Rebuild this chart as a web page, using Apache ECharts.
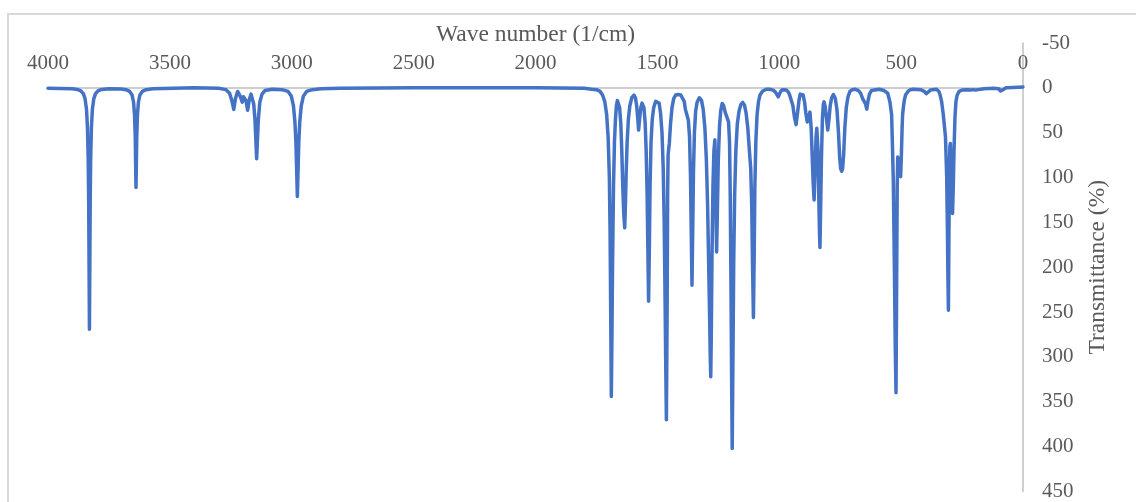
<!DOCTYPE html>
<html>
<head>
<meta charset="utf-8">
<title>IR spectrum</title>
<script src="https://cdn.jsdelivr.net/npm/echarts@6/dist/echarts.min.js"></script>
<style>
  html, body { margin: 0; padding: 0; background: #ffffff; }
  #chart { width: 1136px; height: 502px; }
</style>
</head>
<body>
<div id="chart"></div>
<script>
// Spectrum points as [wave number (1/cm), transmittance (%)], high to low wave number.
const highRegion = [
  [4000, 0.5], [3900, 1], [3880, 1.8], [3865, 3.5], [3855, 6.5], [3848, 12],
  [3842, 24], [3838, 45], [3835, 80], [3833, 130], [3831.5, 200], [3830, 269],
  [3828.5, 200], [3827, 130], [3825, 80], [3822, 45], [3818, 24], [3812, 12],
  [3805, 6.5], [3795, 3.5], [3780, 1.8], [3750, 1], [3700, 1.2], [3680, 2],
  [3665, 4], [3655, 8], [3649, 16], [3645, 30], [3642, 55], [3640.5, 85],
  [3639, 111], [3637.5, 85], [3636, 55], [3633, 30], [3629, 16], [3623, 8],
  [3613, 4], [3598, 2], [3570, 1], [3400, 0], [3300, 0.5], [3270, 2],
  [3255, 6], [3245, 15], [3238, 24], [3231, 12], [3222, 4], [3212, 9],
  [3203, 16], [3198, 10], [3194, 9], [3188, 14], [3181, 25], [3174, 13],
  [3167, 7], [3162, 9], [3156, 18], [3151, 35], [3147, 60], [3144, 79],
  [3141, 60], [3137, 35], [3131, 16], [3122, 7], [3110, 3], [3080, 1.5],
  [3040, 2], [3015, 4], [3002, 9], [2993, 20], [2987, 38], [2983, 60],
  [2980, 90], [2977, 121], [2974, 90], [2971, 60], [2967, 38], [2961, 20],
  [2952, 9], [2939, 4], [2915, 2], [2880, 1], [2800, 0.5], [2500, 0],
  [2000, 0], [1800, 0.5], [1770, 1.5]
];

const fingerprint = [
  [1750, 2], [1735, 4], [1725, 8], [1716, 15], [1708, 30], [1702, 55],
  [1697, 100], [1694, 160], [1691.5, 250], [1689, 344], [1686.5, 280],
  [1684, 200], [1680, 110], [1676, 60], [1672, 35], [1668, 20], [1664, 14],
  [1659, 16], [1655, 22], [1650, 40], [1646, 70], [1642, 110], [1638, 140],
  [1634, 156], [1631, 130], [1628, 95], [1624, 60], [1619, 35], [1613, 20],
  [1605, 11], [1596, 8], [1590, 11], [1585, 20], [1581, 32], [1577, 47],
  [1573, 35], [1568, 22], [1563, 17], [1559, 16], [1555, 22], [1550, 40],
  [1546, 70], [1542, 120], [1539, 180], [1536, 238], [1533, 180], [1530, 110],
  [1526, 60], [1521, 35], [1515, 22], [1507, 15], [1500, 13.7], [1493, 17],
  [1487, 28], [1481, 50], [1476, 90], [1472, 150], [1469, 220], [1466, 300],
  [1463, 370], [1460, 250], [1458, 120], [1456, 75], [1454, 69], [1451, 62],
  [1446, 40], [1440, 22], [1433, 12], [1425, 8], [1415, 7.4], [1404, 8],
  [1396, 10], [1390, 15], [1385, 24], [1379, 30], [1373, 36], [1368, 55],
  [1364, 100], [1361, 160], [1358, 220], [1355, 160], [1352, 95], [1348, 50],
  [1343, 26], [1337, 16], [1328, 11], [1319, 14], [1312, 24], [1305, 45],
  [1299, 80], [1294, 130], [1290, 190], [1286, 250], [1283, 300], [1281, 322],
  [1279, 280], [1276, 190], [1272, 110], [1268, 70], [1264, 58], [1261, 100],
  [1259, 150], [1257, 183], [1254, 140], [1250, 80], [1245, 42], [1240, 25],
  [1234, 17.4], [1228, 20], [1221, 28], [1213, 34], [1208, 38], [1204, 60],
  [1201, 120], [1198, 220], [1195.5, 320], [1193, 402], [1190.5, 320],
  [1187, 200], [1183, 120], [1178, 70], [1172, 40], [1165, 26], [1158, 19],
  [1150, 16.3], [1143, 19], [1136, 28], [1129, 45], [1123, 68], [1117, 90],
  [1113, 130], [1110, 190], [1106, 256], [1103, 190], [1100, 110], [1096, 60],
  [1091, 30], [1085, 15], [1079, 8], [1068, 3.5], [1051, 1.5]
];

const lowRegion = [
  [1040, 1.5], [1025, 2.5], [1015, 5], [1004, 10], [996, 5], [988, 2],
  [980, 1.5], [970, 2.5], [962, 5], [956, 9], [950, 10], [944, 20],
  [938, 32], [931, 41], [925, 28], [919, 14], [914, 7], [908, 5],
  [902, 8], [896, 16], [891, 28], [885, 38], [881, 40], [877, 30],
  [874, 27], [869, 45], [865, 75], [861, 105], [857, 125], [853, 90],
  [849, 55], [846, 45], [844, 43], [841, 70], [838, 120], [835, 160],
  [833, 178], [830, 130], [827, 80], [823, 35], [819, 18], [816, 15.6],
  [811, 22], [806, 35], [801, 47], [796, 35], [791, 20], [785, 11],
  [778, 7.4], [770, 12], [763, 25], [757, 50], [752, 78], [748, 90],
  [744, 93], [740, 90], [736, 75], [731, 45], [725, 22], [718, 10],
  [710, 4], [700, 2], [689, 1.5], [675, 3], [666, 6], [658, 12],
  [652, 12], [646, 18], [641, 23.7], [636, 15], [630, 7], [622, 3],
  [614, 1.5], [590, 1.5], [570, 3], [555, 6], [546, 15.6], [539, 30],
  [536, 60], [532, 104], [527, 215], [524, 290], [521, 340], [518, 200],
  [516, 110], [514, 77], [510, 85], [506, 95], [502, 99], [499, 75],
  [496, 45], [494, 30], [490, 20], [487, 14], [482, 8], [472, 4],
  [462, 2], [450, 1.5], [420, 2], [405, 4], [397, 6.5], [390, 5],
  [380, 2.5], [355, 1.5], [345, 4], [340, 8], [334, 15], [327, 30],
  [318, 55], [313, 100], [310, 160], [308, 210], [306, 248], [304, 170],
  [302, 100], [300, 65], [298, 62], [295, 90], [292, 120], [289, 140],
  [286, 110], [283, 70], [279, 32], [275, 15], [270, 8], [262, 4],
  [250, 2.5], [230, 2], [215, 2.5], [210, 4], [204, 2], [195, 2.5],
  [189, 4], [183, 2], [160, 1], [120, 0.5], [100, 1], [92, 3.5],
  [87, 4], [82, 2], [70, 0], [40, -0.5], [0, -1]
];

const spectrum = highRegion.concat(fingerprint, lowRegion);

// Axis ranges and ticks
const waveRange = { min: 0, max: 4000, step: 500 };
const transRange = { min: -50, max: 450, step: 50 };

const textColor = '#595959';
const axisGray = '#bfbfbf';
const serif = 'Liberation Serif, Times New Roman, serif';

const chart = echarts.init(document.getElementById('chart'), null, { renderer: 'canvas' });

chart.setOption({
  animation: false,
  backgroundColor: '#ffffff',
  graphic: [{
    type: 'rect',
    z: -10,
    silent: true,
    shape: { x: 8, y: 14, width: 1200, height: 600 },
    style: { fill: 'none', stroke: '#d9d9d9', lineWidth: 2 }
  }],
  grid: { left: 48, right: 113, top: 43, bottom: 9, containLabel: false },
  xAxis: [{
    type: 'value',
    position: 'top',
    inverse: true,
    min: waveRange.min,
    max: waveRange.max,
    interval: waveRange.step,
    name: 'Wave number (1/cm)',
    nameLocation: 'middle',
    nameGap: 8,
    nameMoveOverlap: false,
    nameTextStyle: { color: textColor, fontFamily: serif, fontSize: 23.5, verticalAlign: 'middle' },
    axisLine: { show: false, onZero: false },
    axisTick: { show: false },
    splitLine: { show: false },
    axisLabel: {
      inside: true,
      margin: 10,
      color: textColor,
      fontFamily: serif,
      fontSize: 21,
      formatter: (v) => String(v)
    }
  }, {
    // zero line of the transmittance scale
    type: 'value',
    position: 'bottom',
    inverse: true,
    min: waveRange.min,
    max: waveRange.max,
    axisLine: { show: true, onZero: true, lineStyle: { color: axisGray, width: 1.5 } },
    axisTick: { show: false },
    axisLabel: { show: false },
    splitLine: { show: false }
  }],
  yAxis: {
    type: 'value',
    position: 'right',
    inverse: true,
    min: transRange.min,
    max: transRange.max,
    interval: transRange.step,
    name: 'Transmittance (%)',
    nameLocation: 'middle',
    nameRotate: 90,
    nameGap: 63,
    nameMoveOverlap: false,
    nameTextStyle: { color: textColor, fontFamily: serif, fontSize: 23.5 },
    axisLine: { show: true, onZero: false, lineStyle: { color: axisGray, width: 1.5 } },
    axisTick: { show: false },
    splitLine: { show: false },
    axisLabel: {
      margin: 19,
      color: textColor,
      fontFamily: serif,
      fontSize: 21
    }
  },
  series: [{
    type: 'line',
    xAxisIndex: 0,
    data: spectrum,
    showSymbol: false,
    symbol: 'none',
    smooth: false,
    lineStyle: { color: '#4472C4', width: 3.5, join: 'round', cap: 'round' },
    z: 5
  }]
});
</script>
</body>
</html>
